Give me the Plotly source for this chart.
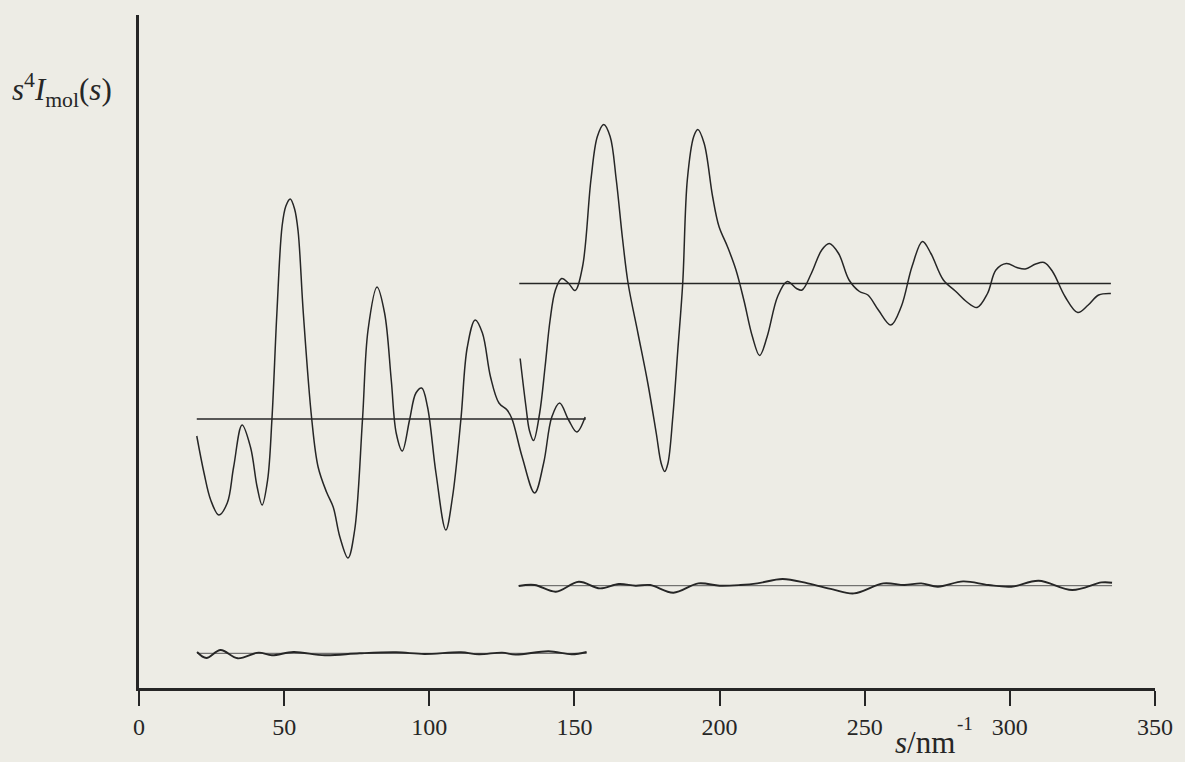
import plotly.graph_objects as go

# Molecular-scattering intensity s^4 I_mol(s) for two camera distances,
# each drawn about its own zero line, with the difference curves below.

# long camera distance
s_long = [19.9, 22.4, 24.7, 27.5, 30.4, 32.6, 35.5, 38.4, 40.7, 42.4, 44.3, 45.8, 47.5, 49.3,
          50.6, 52.1, 53.6, 54.8, 56.6, 59.5, 61.7, 64.6, 66.9, 69.2, 72.0, 74.3, 77.0, 78.9,
          82.0, 84.6, 86.9, 88.6, 90.7, 93.2, 95.4, 97.4, 99.4, 102.3, 105.7, 108.0, 110.9,
          113.1, 115.8, 118.3, 121.1, 124.0, 126.8, 128.5, 132.0, 136.3, 139.4, 142.2, 144.9,
          148.0, 150.8, 153.7]
i_long = [-1.7, -5.4, -8.1, -9.6, -8.4, -4.8, -0.6, -2.8, -6.8, -8.6, -6.1, 0.0, 10.6, 19.3,
          21.3, 22.0, 21.0, 18.8, 10.6, 0.0, -4.8, -7.3, -8.8, -11.8, -13.9, -11.1, 0.0, 8.9,
          13.2, 10.6, 3.9, -1.4, -3.2, -0.1, 2.6, 3.1, 1.2, -5.4, -11.1, -7.8, 0.0,
          7.2, 9.9, 8.6, 4.2, 1.6, 0.9, 0.0, -3.8, -7.4, -4.4, 0.2, 1.6,
          -0.1, -1.3, 0.2]

# short camera distance
s_short = [131.3, 133.3, 134.5, 135.9, 138.0, 139.9, 141.6, 143.4, 145.6, 147.9, 150.2, 152.8,
           155.7, 157.9, 160.1, 162.3, 164.4, 166.6, 168.5, 171.9, 175.3, 178.2, 179.9, 181.1,
           182.2, 183.9, 185.6, 187.3, 188.9, 191.1, 192.5, 194.7, 197.6, 199.8, 202.7, 205.6,
           208.4, 211.3, 213.8, 216.4, 220.0, 223.3, 226.5, 228.4, 231.6, 235.2, 237.8, 241.0,
           244.6, 248.2, 251.1, 254.7, 259.0, 262.6, 266.3, 269.9, 272.8, 277.1, 281.4, 285.0,
           288.7, 292.3, 295.2, 298.8, 302.4, 305.3, 308.9, 311.8, 314.7, 319.0, 323.4, 327.0,
           330.6, 334.8]
i_short = [-7.5, -12.3, -14.7, -15.7, -13.0, -8.3, -3.7, -0.7, 0.5, 0.05, -0.7, 1.7,
           10.4, 14.7, 15.9, 14.7, 10.4, 4.4, 0.0, -5.0, -10.0, -15.0, -18.0, -18.8,
           -18.0, -13.3, -6.7, 0.0, 10.4, 14.7, 15.4, 14.0, 8.7, 5.7, 3.7, 1.4,
           -1.7, -5.3, -7.2, -5.3, -1.3, 0.2, -0.5, -0.65, 1.0, 3.35, 4.0, 3.0,
           0.35, -0.8, -1.15, -2.65, -4.15, -2.3, 1.7, 4.2, 3.0, 0.35, -0.8, -1.8,
           -2.4, -1.0, 1.35, 2.0, 1.6, 1.45, 1.95, 2.1, 1.2, -1.3, -2.9, -2.15,
           -1.15, -1.0]

# difference (experiment - theory) curves
s_diff_long = [20.0, 23.2, 28.1, 34.0, 41.2, 45.8, 53.2, 64.0, 76.0, 88.6, 98.3, 110.9,
               117.1, 125.1, 129.7, 141.1, 149.1, 154.2]
d_long = [0.13, -0.47, 0.33, -0.5, 0.07, -0.2, 0.13, -0.2, 0.0, 0.1, -0.07, 0.1,
          -0.1, 0.07, -0.13, 0.2, -0.1, 0.13]

s_diff_short = [130.8, 136.3, 143.6, 151.5, 158.8, 165.3, 171.1, 176.1, 184.1, 192.7, 200.0,
                207.2, 213.0, 221.7, 230.4, 239.0, 246.3, 256.4, 263.7, 269.5, 275.2, 283.9,
                292.6, 300.5, 309.9, 321.5, 331.6, 335.2]
d_short = [-0.03, 0.07, -0.6, 0.4, -0.27, 0.17, 0.0, 0.07, -0.7, 0.23, 0.0,
           0.07, 0.23, 0.67, 0.23, -0.37, -0.77, 0.23, 0.07, 0.23, -0.1, 0.43,
           0.07, -0.1, 0.5, -0.43, 0.33, 0.3]

# vertical offsets (zero lines) of each trace
off_long, off_short = 26.9, 40.45
off_diff_long, off_diff_short = 3.47, 10.23

x_ticks = [0, 50, 100, 150, 200, 250, 300, 350]

INK = "#262626"
BG = "#edece5"
SERIF = "Liberation Serif, Times New Roman, serif"

# plot-area geometry in pixels, used to place the free-standing labels
L, R, T, B, W, H = 139, 25, 15, 74, 1185, 762
PW, PH = W - L - R, H - T - B


def px(x):
    return (x - L) / PW


def py(y):
    return (H - B - y) / PH


fig = go.Figure()


def zero_line(s0, s1, off, width, color=INK):
    fig.add_trace(go.Scatter(x=[s0, s1], y=[off, off], mode="lines",
                             line=dict(color=color, width=width), hoverinfo="skip"))


def curve(s, v, off, width):
    fig.add_trace(go.Scatter(x=s, y=[off + a for a in v], mode="lines",
                             line=dict(color=INK, width=width, shape="spline", smoothing=1.0),
                             hoverinfo="skip"))


zero_line(s_long[0], s_long[-1] + 0.2, off_long, 1.6)
zero_line(131.0, s_short[-1], off_short, 1.6)
zero_line(s_diff_long[0], s_diff_long[-1], off_diff_long, 1.0, "#555555")
zero_line(s_diff_short[0], s_diff_short[-1], off_diff_short, 1.0, "#555555")

curve(s_long, i_long, off_long, 1.5)
curve(s_short, i_short, off_short, 1.5)
curve(s_diff_long, d_long, off_diff_long, 1.9)
curve(s_diff_short, d_short, off_diff_short, 1.9)

fig.update_layout(
    width=W, height=H,
    margin=dict(l=L, r=R, t=T, b=B),
    paper_bgcolor=BG, plot_bgcolor=BG,
    showlegend=False,
    font=dict(family=SERIF, color=INK),
    xaxis=dict(range=[0, 350], tickvals=x_ticks, ticktext=[str(t) for t in x_ticks],
               showgrid=False, zeroline=False, showline=True, linecolor=INK, linewidth=2.5,
               ticks="outside", ticklen=15, tickwidth=2, tickcolor=INK,
               tickfont=dict(family=SERIF, size=24, color=INK)),
    yaxis=dict(range=[0, PH / 10], showgrid=False, zeroline=False, showline=True,
               linecolor=INK, linewidth=2.5, showticklabels=False, ticks=""),
    annotations=[
        dict(text="<i>s</i><sup>4</sup><i>I</i><sub>mol</sub>(<i>s</i>)",
             xref="paper", yref="paper", x=px(9), y=py(90),
             xanchor="left", yanchor="middle", showarrow=False,
             font=dict(family=SERIF, size=31, color=INK)),
        dict(text="<i>s</i>/nm",
             xref="paper", yref="paper", x=px(897), y=py(762),
             xanchor="left", yanchor="bottom", showarrow=False,
             font=dict(family=SERIF, size=31, color=INK)),
        dict(text="-1",
             xref="paper", yref="paper", x=px(959), y=py(723),
             xanchor="left", yanchor="middle", showarrow=False,
             font=dict(family=SERIF, size=19, color=INK)),
    ],
)

fig.write_html("out.html")
